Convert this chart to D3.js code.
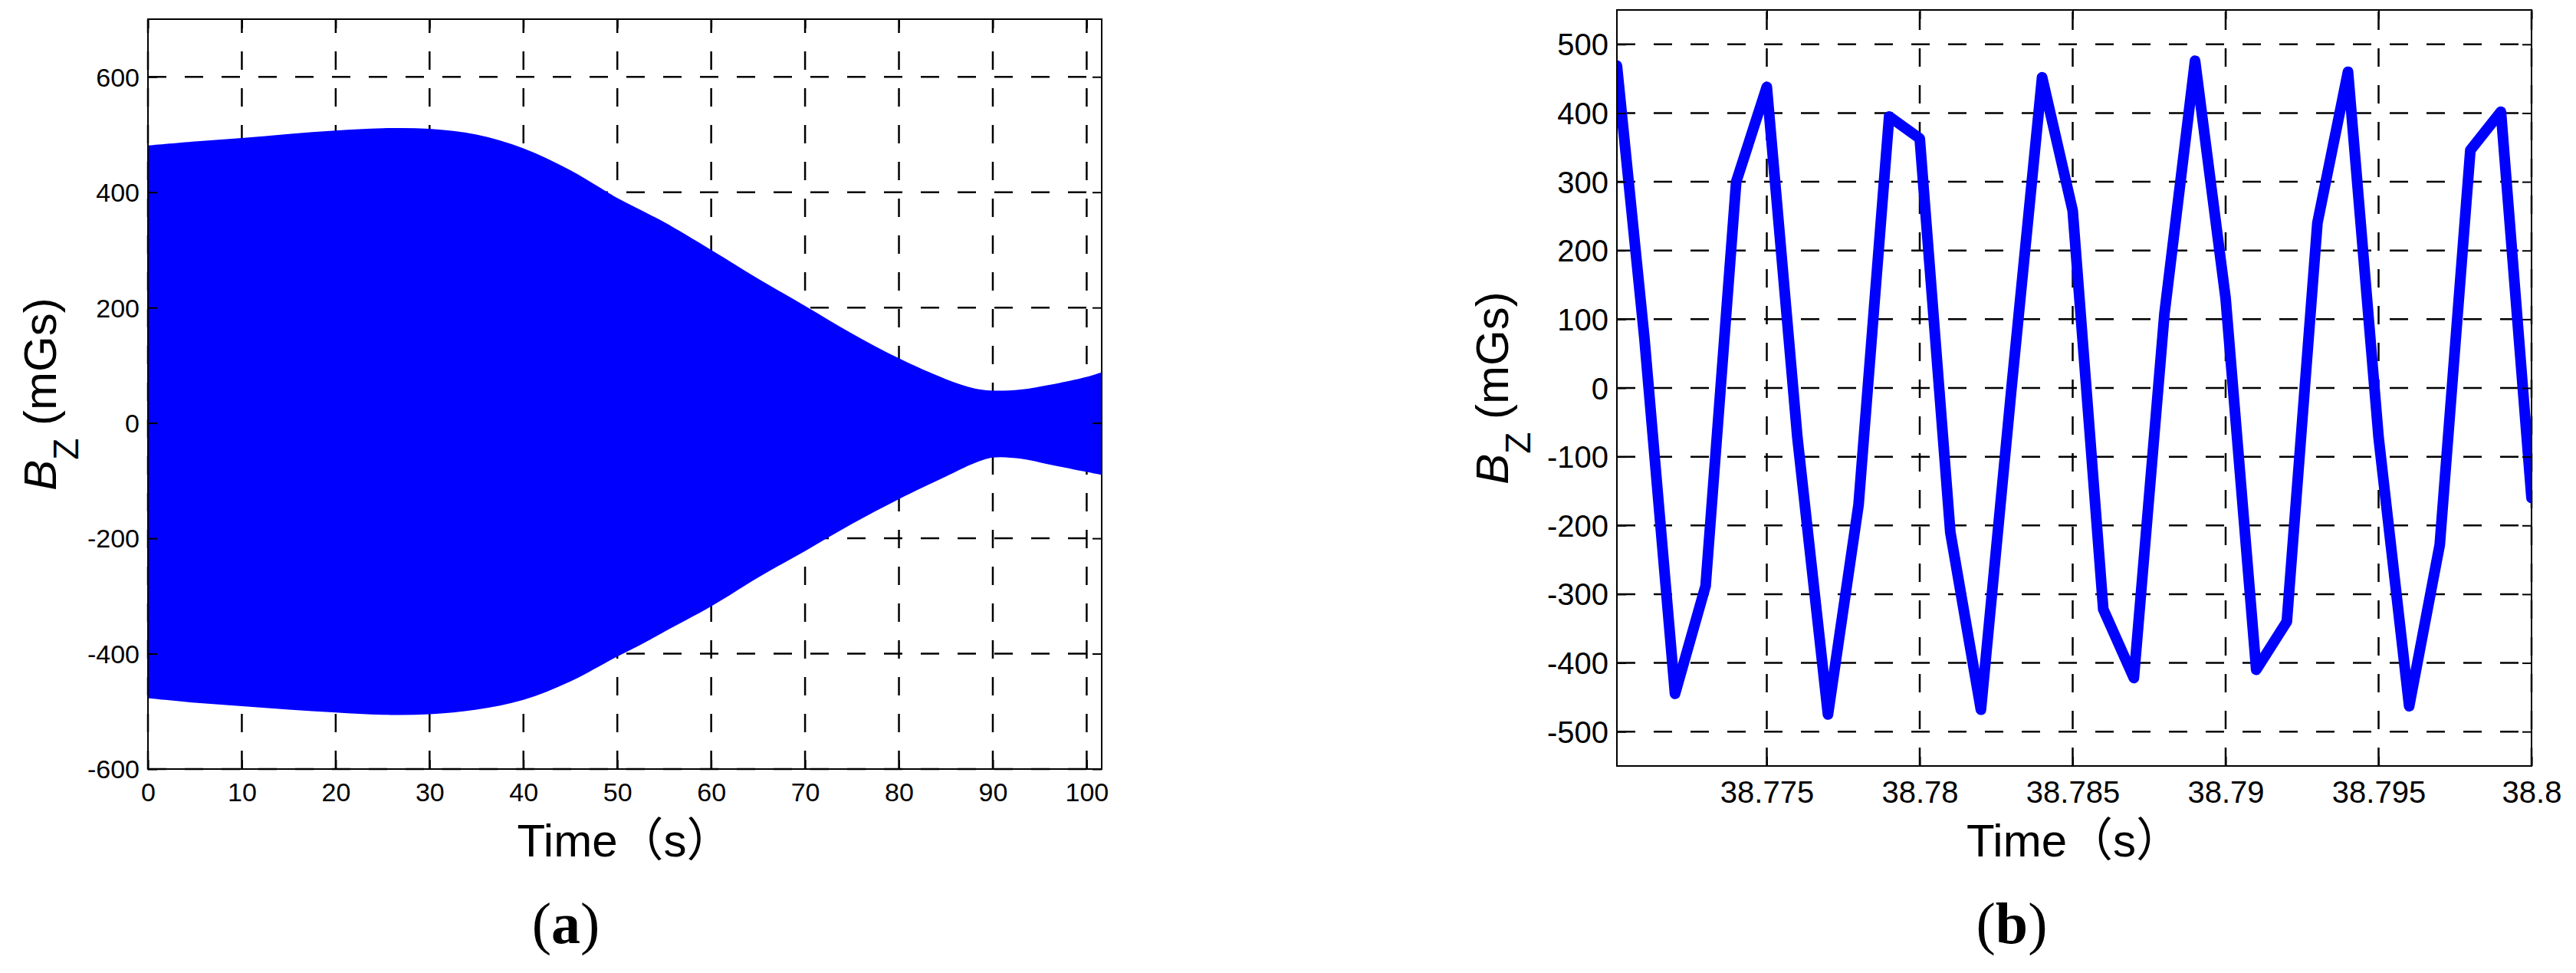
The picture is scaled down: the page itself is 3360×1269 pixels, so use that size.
<!DOCTYPE html>
<html>
<head>
<meta charset="utf-8">
<script src="https://cdn.jsdelivr.net/npm/d3@7"></script>
<style>
	body { margin: 0; background: #fff; }
	text { font-family: 'Liberation Sans', Arial, 'Noto Sans CJK SC', sans-serif; fill: #000; }
</style>
</head>
<body>
<div id="chart"></div>
<script>
// (a) envelope of the Bz signal over the whole run
const envTime = [ 0, 5, 10, 15, 20, 25, 30, 35, 40, 45, 50, 53, 55, 60, 65, 70, 75, 80, 85, 88, 90, 93, 96, 100, 101.6 ];
const envUpper = [ 481, 488, 494, 501, 507, 511, 510, 500, 476, 438, 390, 365, 348, 300, 250, 203, 155, 112, 76, 60, 56, 58, 66, 80, 88 ];
const envLower = [ -477, -485, -491, -497, -502, -506, -505, -497, -480, -448, -405, -380, -362, -318, -268, -222, -175, -132, -93, -70, -60, -62, -72, -85, -90 ];

const aXTicks = [ 0, 10, 20, 30, 40, 50, 60, 70, 80, 90, 100 ];
const aYTicks = [ -600, -400, -200, 0, 200, 400, 600 ];

// (b) zoom on 30 ms of samples
const sampleTime = [
	38.7701, 38.771, 38.772, 38.773, 38.774, 38.775, 38.776, 38.777, 38.778, 38.779, 38.78,
	38.781, 38.782, 38.783, 38.784, 38.785, 38.786, 38.787, 38.788, 38.789, 38.79,
	38.791, 38.792, 38.793, 38.794, 38.795, 38.796, 38.797, 38.798, 38.799, 38.8
];
const sampleBz = [
	469, 72, -445, -288, 300, 438, -72, -475, -170, 395, 363,
	-210, -468, 0, 452, 258, -322, -422, 108, 476, 130,
	-410, -340, 240, 460, -72, -463, -228, 346, 402, -160
];

const bXTicks = [ 38.775, 38.78, 38.785, 38.79, 38.795, 38.8 ];
const bXLabels = [ '38.775', '38.78', '38.785', '38.79', '38.795', '38.8' ];
const bYTicks = [ -500, -400, -300, -200, -100, 0, 100, 200, 300, 400, 500 ];

const W = 3360, H = 1269;
const blue = '#0000ff';

const svg = d3.select('#chart').append('svg').attr('width', W).attr('height', H);

function drawPanel(p) {
	const x = d3.scaleLinear().domain(p.xDomain).range([ p.left, p.right ]);
	const y = d3.scaleLinear().domain(p.yDomain).range([ p.bottom, p.top ]);
	const g = svg.append('g');

	// dashed grid
	g.selectAll('line.gx').data(p.xTicks).join('line')
		.attr('x1', (d) => x(d)).attr('x2', (d) => x(d))
		.attr('y1', p.bottom).attr('y2', p.top)
		.attr('stroke', '#000').attr('stroke-width', 2.5).attr('stroke-dasharray', '24,24');
	g.selectAll('line.gy').data(p.yTicks).join('line')
		.attr('x1', p.left).attr('x2', p.right)
		.attr('y1', (d) => y(d)).attr('y2', (d) => y(d))
		.attr('stroke', '#000').attr('stroke-width', 2.5).attr('stroke-dasharray', '24,24');

	const clipId = 'clip-' + p.name;
	svg.append('defs').append('clipPath').attr('id', clipId)
		.append('rect')
		.attr('x', p.left).attr('y', p.top)
		.attr('width', p.right - p.left).attr('height', p.bottom - p.top);

	const plot = g.append('g').attr('clip-path', `url(#${clipId})`);
	p.drawData(plot, x, y);

	// inward ticks on all four sides
	const tl = 12;
	const xb = g.append('g').attr('transform', `translate(0,${p.bottom})`)
		.call(d3.axisBottom(x).tickValues(p.xTicks).tickSize(-tl).tickFormat((d, i) => p.xLabels[i]));
	xb.selectAll('text').attr('y', p.xLabelGap).attr('dy', 0).attr('font-size', p.tickFont);
	g.append('g').attr('transform', `translate(0,${p.top})`)
		.call(d3.axisTop(x).tickValues(p.xTicks).tickSize(-tl).tickFormat(''));
	const yl = g.append('g').attr('transform', `translate(${p.left},0)`)
		.call(d3.axisLeft(y).tickValues(p.yTicks).tickSize(-tl).tickFormat((d) => String(d)));
	yl.selectAll('text').attr('x', -11).attr('dy', '0.35em').attr('font-size', p.tickFont);
	g.append('g').attr('transform', `translate(${p.right},0)`)
		.call(d3.axisRight(y).tickValues(p.yTicks).tickSize(-tl).tickFormat(''));

	g.selectAll('.domain').remove();
	g.selectAll('.tick line').attr('stroke', '#000').attr('stroke-width', 2);
	g.selectAll('.tick text').attr('fill', '#000').attr('font-family', null);

	g.append('rect')
		.attr('x', p.left).attr('y', p.top)
		.attr('width', p.right - p.left).attr('height', p.bottom - p.top)
		.attr('fill', 'none').attr('stroke', '#000').attr('stroke-width', 2);

	// axis titles
	const cx = (p.left + p.right) / 2;
	g.append('text')
		.attr('x', cx).attr('y', 1117)
		.attr('text-anchor', 'middle').attr('font-size', 60)
		.text('Time（s）');

	const cy = (p.top + p.bottom) / 2;
	const yt = g.append('text')
		.attr('transform', `translate(${p.yTitleX},${cy}) rotate(-90)`)
		.attr('text-anchor', 'middle').attr('font-size', 60);
	yt.append('tspan').attr('font-style', 'italic').text('B');
	yt.append('tspan').attr('font-size', 46).attr('dy', 29).text('Z');
	yt.append('tspan').attr('dy', -29).text('\u00a0(mGs)');

	const cap = g.append('text')
		.attr('x', p.capX).attr('y', 1230)
		.attr('text-anchor', 'middle').attr('font-size', 76)
		.style('font-family', "'Liberation Serif', 'Times New Roman', serif");
	cap.append('tspan').text('(');
	cap.append('tspan').attr('font-weight', 'bold').text(p.cap);
	cap.append('tspan').text(')');
}

drawPanel({
	name     : 'a',
	left     : 193,
	right    : 1437,
	top      : 25,
	bottom   : 1003,
	xDomain  : [ 0, 101.6 ],
	yDomain  : [ -600, 700 ],
	xTicks   : aXTicks,
	xLabels  : aXTicks.map(String),
	yTicks   : aYTicks,
	tickFont : 34,
	xLabelGap: 42,
	yTitleX  : 73,
	capX     : 738,
	cap      : 'a',
	drawData : function(plot, x, y) {
		const rows = envTime.map((t, i) => ({ t: t, hi: envUpper[i], lo: envLower[i] }));
		const area = d3.area()
			.curve(d3.curveCatmullRom)
			.x((d) => x(d.t))
			.y0((d) => y(d.lo))
			.y1((d) => y(d.hi));
		plot.append('path').datum(rows).attr('d', area).attr('fill', blue);
	}
});

drawPanel({
	name     : 'b',
	left     : 2109,
	right    : 3302,
	top      : 13,
	bottom   : 999,
	xDomain  : [ 38.7701, 38.8 ],
	yDomain  : [ -550, 550 ],
	xTicks   : bXTicks,
	xLabels  : bXLabels,
	yTicks   : bYTicks,
	tickFont : 40,
	xLabelGap: 48,
	yTitleX  : 1967,
	capX     : 2624,
	cap      : 'b',
	drawData : function(plot, x, y) {
		const rows = sampleTime.map((t, i) => ({ t: t, v: sampleBz[i] }));
		const line = d3.line().x((d) => x(d.t)).y((d) => y(d.v));
		plot.append('path').datum(rows)
			.attr('d', line)
			.attr('fill', 'none')
			.attr('stroke', blue)
			.attr('stroke-width', 14)
			.attr('stroke-linejoin', 'round')
			.attr('stroke-linecap', 'round');
	}
});
</script>
</body>
</html>
